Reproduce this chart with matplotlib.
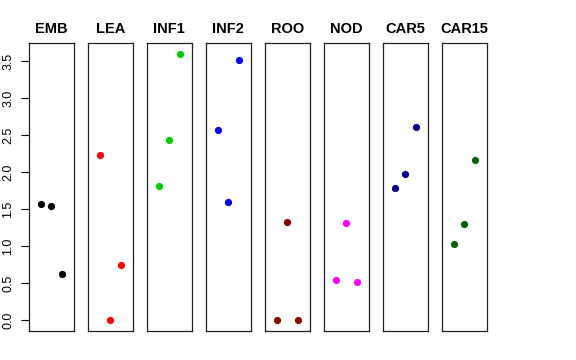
import numpy as np
import matplotlib.pyplot as plt

plt.rcParams['font.family'] = ['Liberation Sans', 'DejaVu Sans']

groups = ['EMB', 'LEA', 'INF1', 'INF2', 'ROO', 'NOD', 'CAR5', 'CAR15']
colors = ['black', 'red', '#00cd00', 'blue', '#8b0000', 'magenta', '#00008b', '#006400']
values = [
    [1.57, 1.55, 0.62],
    [2.23, 0.00, 0.75],
    [1.82, 2.44, 3.60],
    [2.57, 1.60, 3.52],
    [0.00, 1.33, 0.00],
    [0.55, 1.31, 0.52],
    [1.78, 1.98, 2.61],
    [1.03, 1.30, 2.16],
]
yticks = [0.0, 0.5, 1.0, 1.5, 2.0, 2.5, 3.0, 3.5]

W, H = 576, 360
fig = plt.figure(figsize=(W / 100, H / 100), dpi=100)

left0, step, pw = 29, 59, 44.5
top, bottom = 43, 331
ymin, ymax = 0.0, 3.6
pad = (ymax - ymin) * 0.04

for i, (g, c, v) in enumerate(zip(groups, colors, values)):
    ax = fig.add_axes([(left0 + i * step) / W, (H - bottom) / H,
                       pw / W, (bottom - top) / H])
    ax.plot([1, 2, 3], v, 'o', color=c, markersize=5.2, markeredgewidth=0)
    ax.set_xlim(-0.16, 4.16)
    ax.set_ylim(ymin - pad, ymax + pad)
    ax.set_xticks([])
    ax.set_title(g, fontsize=10.5, fontweight='bold', pad=7)
    for s in ax.spines.values():
        s.set_linewidth(0.9)
        s.set_color('#222222')
    if i == 0:
        ax.set_yticks(yticks)
        ax.set_yticklabels(['%.1f' % t for t in yticks], rotation=90,
                           va='center', fontsize=9)
        ax.tick_params(axis='y', length=5.5, width=0.8, pad=5)
    else:
        ax.set_yticks([])

fig.savefig('out.png', dpi=100)
